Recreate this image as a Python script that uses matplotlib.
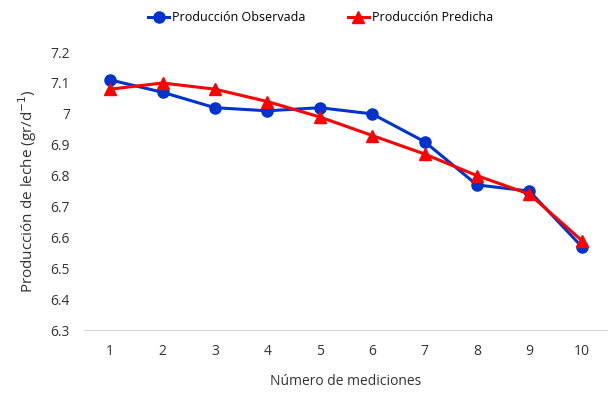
import matplotlib.pyplot as plt
import numpy as np

plt.rcParams['font.family'] = ['Open Sans', 'DejaVu Sans']

mediciones = np.arange(1, 11)
observada = [7.11, 7.07, 7.02, 7.01, 7.02, 7.00, 6.91, 6.77, 6.75, 6.57]
predicha = [7.08, 7.10, 7.08, 7.04, 6.99, 6.93, 6.87, 6.80, 6.74, 6.59]

fig = plt.figure(figsize=(6.08, 4.04), dpi=100)
ax = fig.add_axes([0.138, 0.183, 0.862, 0.688])

ax.plot(mediciones, observada, color='#0033cc', lw=2.2, marker='o', ms=8,
        label='Producción Observada', zorder=3)
ax.plot(mediciones, predicha, color='#ff0000', lw=2.2, marker='^', ms=8,
        label='Producción Predicha', zorder=4)

ax.set_xlim(0.5, 10.5)
ax.set_ylim(6.3, 7.2)
ax.set_xticks(mediciones)
ax.set_yticks(np.arange(6.3, 7.21, 0.1))
ax.set_yticklabels(['6.3', '6.4', '6.5', '6.6', '6.7', '6.8', '6.9', '7', '7.1', '7.2'])

for s in ['top', 'right', 'left']:
    ax.spines[s].set_visible(False)
ax.spines['bottom'].set_color('#d9d9d9')
ax.tick_params(axis='both', length=0, labelsize=10, colors='#333333')
ax.tick_params(axis='x', pad=10)
ax.tick_params(axis='y', pad=10)

ax.set_xlabel('Número de mediciones', fontsize=10, color='#333333', labelpad=11)
ax.set_ylabel('Producción de leche (gr/d$^{-1}$)', fontsize=11, color='#333333', labelpad=8)

fig.legend(loc='upper center', bbox_to_anchor=(0.527, 1.0), ncol=2, frameon=False,
           fontsize=9, handlelength=1.7, columnspacing=3.4, handletextpad=0.2)

fig.savefig('out.png', dpi=100)
